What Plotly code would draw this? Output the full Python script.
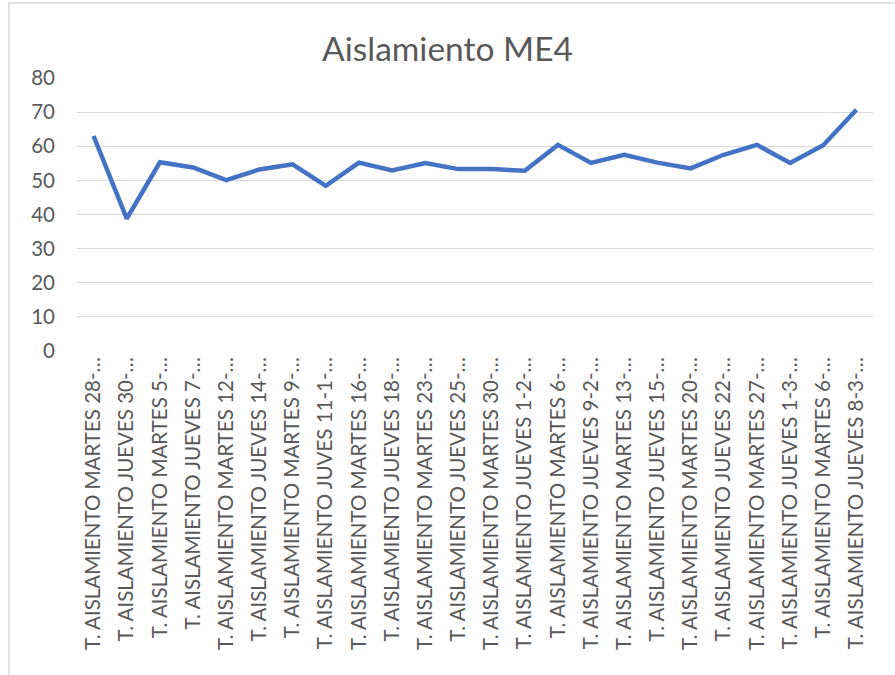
import plotly.graph_objects as go

labels = [
    "T. AISLAMIENTO MARTES 28-…", "T. AISLAMIENTO JUEVES 30-…", "T. AISLAMIENTO MARTES 5-…",
    "T. AISLAMIENTO JUEVES 7-…", "T. AISLAMIENTO MARTES 12-…", "T. AISLAMIENTO JUEVES 14-…",
    "T. AISLAMIENTO MARTES 9-…", "T. AISLAMIENTO JUVES 11-1-…", "T. AISLAMIENTO MARTES 16-…",
    "T. AISLAMIENTO JUEVES 18-…", "T. AISLAMIENTO MARTES 23-…", "T. AISLAMIENTO JUEVES 25-…",
    "T. AISLAMIENTO MARTES 30-…", "T. AISLAMIENTO JUEVES 1-2-…", "T. AISLAMIENTO MARTES 6-…",
    "T. AISLAMIENTO JUEVES 9-2-…", "T. AISLAMIENTO MARTES 13-…", "T. AISLAMIENTO JUEVES 15-…",
    "T. AISLAMIENTO MARTES 20-…", "T. AISLAMIENTO JUEVES 22-…", "T. AISLAMIENTO MARTES 27-…",
    "T. AISLAMIENTO JUEVES 1-3-…", "T. AISLAMIENTO MARTES 6-…", "T. AISLAMIENTO JUEVES 8-3-…",
]
values = [63.0, 38.8, 55.3, 53.8, 50.1, 53.2, 54.7, 48.4, 55.2, 52.9, 55.1, 53.3,
          53.3, 52.8, 60.4, 55.1, 57.5, 55.2, 53.5, 57.5, 60.4, 55.1, 60.3, 70.7]
y_ticks = [0, 10, 20, 30, 40, 50, 60, 70, 80]

positions = list(range(len(labels)))

W, H = 895, 675
L, R, T, B = 77, 22, 78, 324

fig = go.Figure()
fig.add_trace(go.Scatter(
    x=positions, y=values, mode="lines",
    line=dict(color="#4472C4", width=4.5),
    showlegend=False,
))

pw = W - L - R
ph = H - T - B
def px_x(p):
    return (p - L) / pw
def px_y(p):
    return (H - B - p) / ph

fig.update_layout(
    width=W, height=H,
    margin=dict(l=L, r=R, t=T, b=B, autoexpand=False),
    paper_bgcolor="white", plot_bgcolor="white",
    font=dict(family="Lato, Open Sans, sans-serif", color="#595959", size=20),
    title=dict(text="Aislamiento ME4", x=0.5, xanchor="center", y=1 - 49 / H, yanchor="middle",
               font=dict(size=33.5, color="#595959")),
    xaxis=dict(
        range=[-0.5, len(labels) - 0.5],
        tickmode="array", tickvals=positions, ticktext=labels,
        tickangle=-90, showgrid=False, zeroline=False,
        showline=False, ticks="", ticklabelstandoff=1,
        tickfont=dict(size=20.5, color="#595959"),
    ),
    yaxis=dict(
        range=[0, 80], tickmode="array", tickvals=y_ticks,
        showgrid=True, gridcolor="#D9D9D9", gridwidth=1,
        zeroline=False, showline=False, ticks="",
        ticklabelstandoff=21,
        tickfont=dict(size=20.5, color="#595959"),
    ),
    shapes=[dict(
        type="rect", xref="paper", yref="paper",
        x0=px_x(9), x1=px_x(905), y0=px_y(685), y1=px_y(3),
        line=dict(color="#D9D9D9", width=1.5), fillcolor="rgba(0,0,0,0)", layer="below",
    )],
)

fig.write_html("out.html", config={"displayModeBar": False},
               post_script="document.body.style.margin='0';document.body.style.overflow='hidden';")
